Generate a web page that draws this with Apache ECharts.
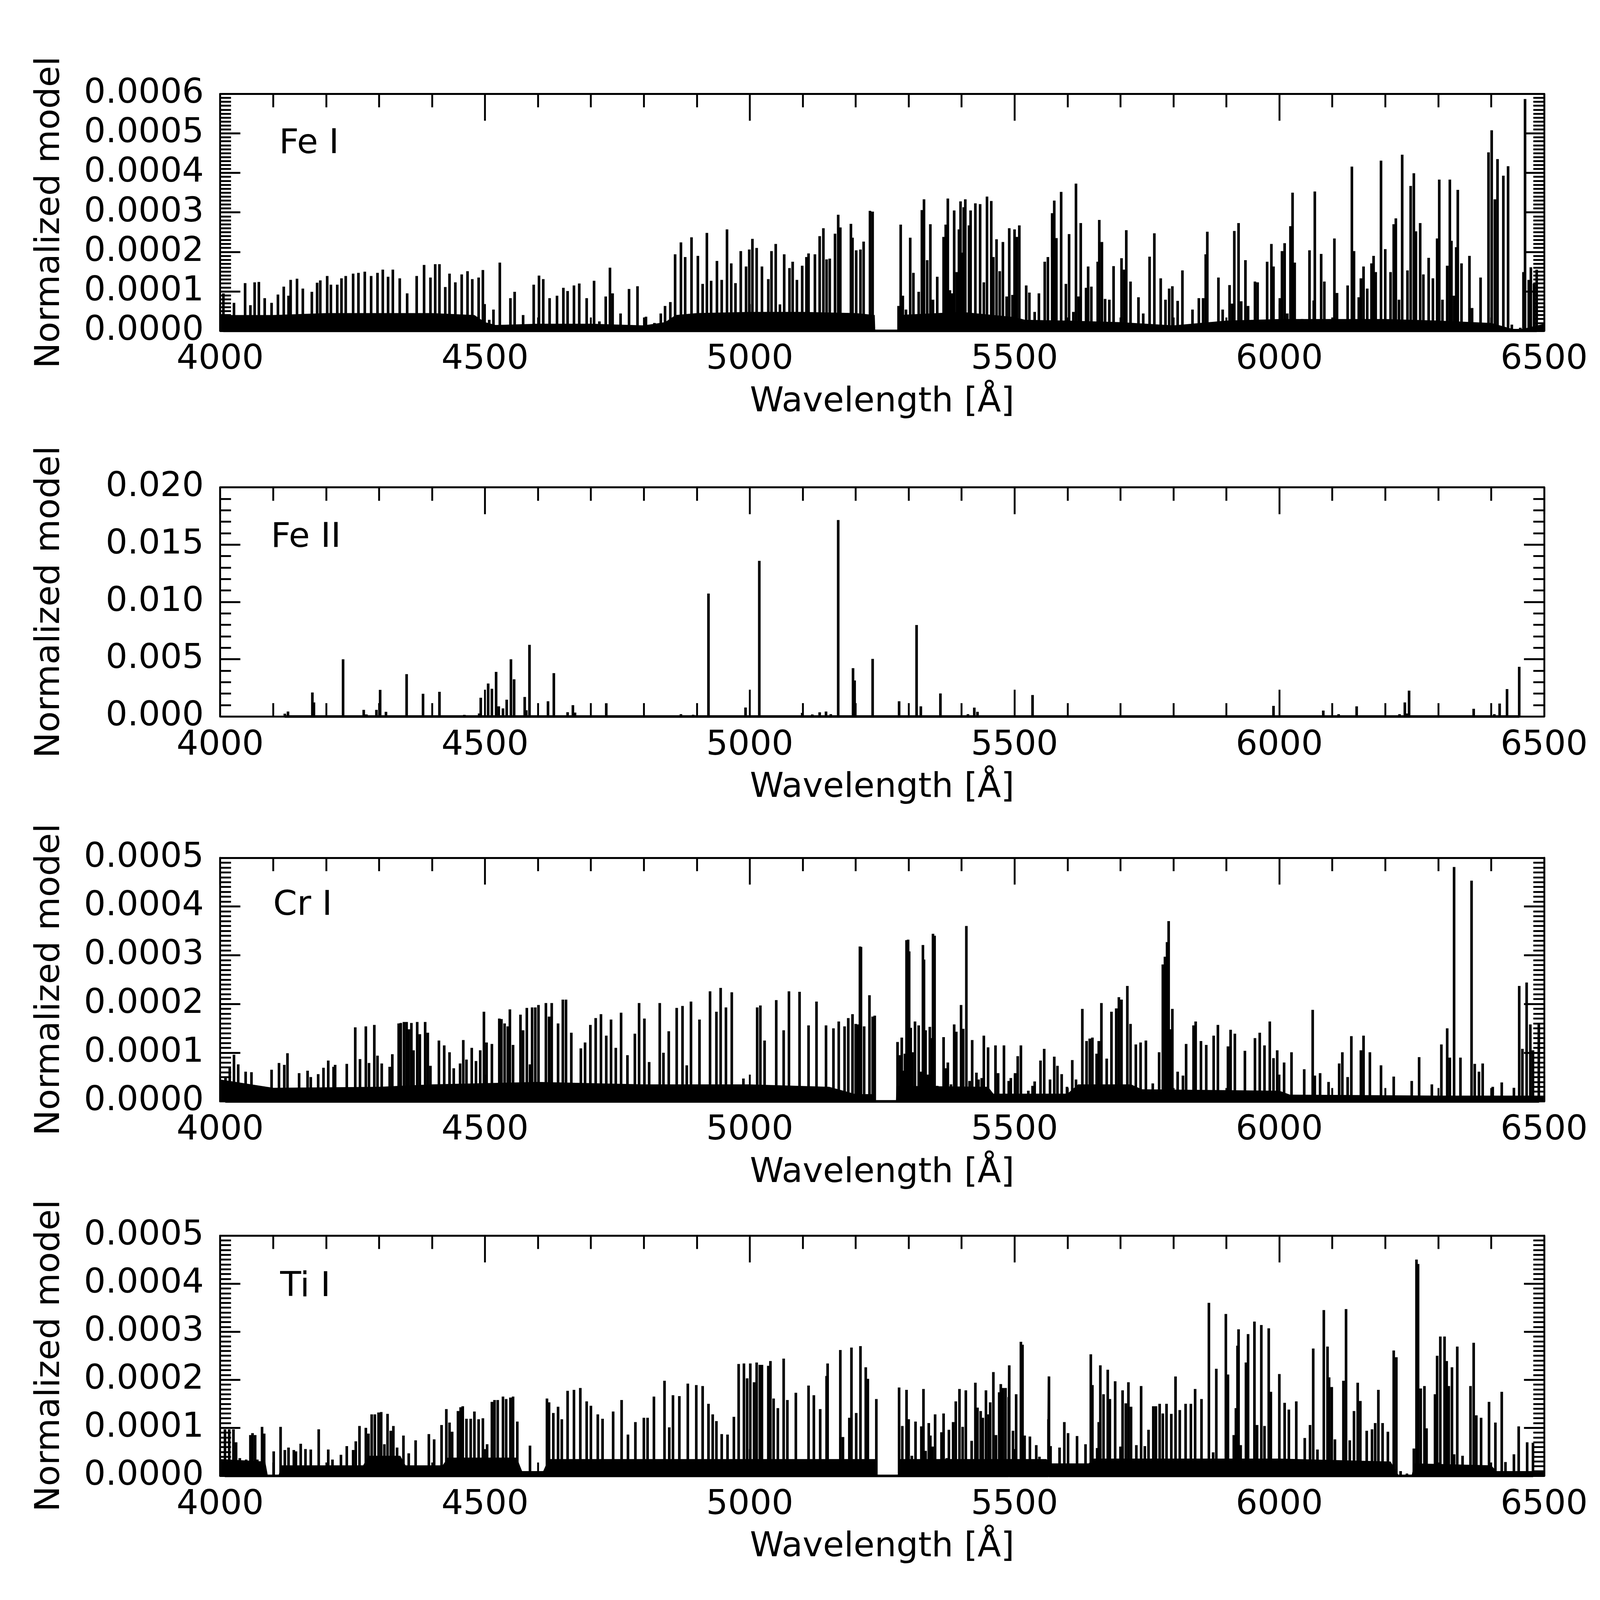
<!DOCTYPE html>
<html style="height: 100%">

<head>
  <meta charset="UTF-8" />
  <title>Normalized line models</title>
  <script src="https://cdn.jsdelivr.net/npm/echarts@6/dist/echarts.min.js"></script>
  <script>
    // line peaks as [wavelength (A), height in units of 1e-4]
    const feI_lines = [
      [4006, 0.95], [4026, 0.71], [4047, 1.21], [4057, 0.65], [4065, 1.23], [4073, 1.24], [4084, 0.83], [4092, 0.32],
      [4097, 0.71], [4109, 0.92], [4120, 1.12], [4129, 0.89], [4133, 1.29], [4145, 1.32], [4156, 1.07], [4173, 0.99],
      [4183, 1.22], [4189, 1.28], [4202, 1.39], [4209, 1.17], [4221, 1.17], [4229, 1.33], [4237, 1.39], [4251, 1.45],
      [4261, 1.47], [4273, 1.50], [4285, 1.39], [4297, 1.47], [4307, 1.55], [4317, 1.37], [4326, 1.55], [4339, 1.33],
      [4353, 0.95], [4371, 1.39], [4385, 1.67], [4397, 1.35], [4406, 1.69], [4414, 1.69], [4425, 1.11], [4433, 1.45],
      [4444, 1.23], [4456, 1.43], [4467, 1.51], [4476, 1.31], [4488, 1.35], [4496, 1.54], [4508, 0.28], [4516, 0.54],
      [4528, 1.73], [4548, 0.83], [4556, 0.99], [4572, 0.40], [4592, 1.17], [4602, 1.40], [4610, 1.31], [4622, 0.83],
      [4636, 0.89], [4648, 1.09], [4656, 1.01], [4668, 1.15], [4678, 1.20], [4692, 0.83], [4706, 1.27], [4716, 0.24],
      [4728, 0.87], [4736, 1.60], [4741, 0.95], [4756, 0.44], [4772, 1.06], [4788, 1.13], [4804, 0.36], [4820, 0.20],
      [4832, 0.44], [4840, 0.63], [4850, 0.73], [4859, 1.94], [4870, 2.24], [4878, 1.87], [4890, 2.37], [4902, 1.90],
      [4911, 1.19], [4919, 2.48], [4927, 1.27], [4938, 1.77], [4947, 1.29], [4957, 2.57], [4965, 1.71], [4973, 1.21],
      [4983, 2.02], [4993, 1.63], [4999, 2.06], [5005, 2.33], [5013, 2.10], [5023, 1.63], [5035, 1.31], [5041, 2.02],
      [5049, 2.20], [5057, 0.67], [5065, 1.94], [5075, 1.59], [5081, 1.75], [5089, 1.29], [5099, 1.65], [5107, 1.87],
      [5111, 1.96], [5123, 1.94], [5132, 2.40], [5139, 2.60], [5145, 1.81], [5151, 1.83], [5161, 2.46], [5167, 2.94],
      [5171, 2.62], [5180, 0.44], [5191, 2.71], [5194, 2.36], [5201, 2.04], [5209, 2.06], [5215, 2.26], [5227, 3.04],
      [5232, 3.02],
      [5281, 0.63], [5285, 2.69], [5289, 0.89], [5295, 0.54], [5303, 2.36], [5309, 1.47], [5319, 0.99], [5325, 3.06],
      [5329, 3.33], [5335, 1.79], [5341, 2.70], [5346, 0.79], [5354, 1.37], [5366, 2.38], [5370, 2.69], [5374, 3.35],
      [5378, 1.03], [5382, 0.95], [5386, 3.05], [5391, 1.49], [5395, 2.57], [5398, 3.28], [5402, 1.98], [5404, 3.13],
      [5407, 3.33], [5414, 2.67], [5417, 3.05], [5426, 3.23], [5435, 3.21], [5442, 1.23], [5448, 3.40], [5456, 3.29],
      [5460, 1.87], [5466, 2.32], [5472, 1.51], [5478, 2.25], [5485, 0.87], [5490, 2.60], [5496, 0.91], [5500, 2.57],
      [5504, 2.38], [5509, 2.67], [5522, 1.15], [5528, 0.97], [5538, 0.48], [5546, 0.95], [5557, 1.75], [5563, 1.87],
      [5571, 2.98], [5575, 3.30], [5579, 2.35], [5588, 3.52], [5597, 1.19], [5603, 2.45], [5611, 0.48], [5616, 3.73],
      [5621, 0.87], [5625, 2.73], [5635, 1.09], [5639, 1.63], [5645, 1.12], [5657, 1.75], [5660, 2.81], [5665, 2.25],
      [5671, 0.81], [5679, 0.79], [5687, 1.64], [5702, 1.84], [5707, 1.55], [5711, 2.55], [5719, 1.25], [5734, 0.85],
      [5743, 0.44], [5755, 1.88], [5764, 2.47], [5776, 1.33], [5785, 0.79], [5792, 1.07], [5798, 1.13], [5808, 0.76],
      [5817, 1.53], [5836, 0.54], [5848, 0.83], [5856, 0.83], [5861, 1.94], [5864, 2.51], [5885, 1.35], [5893, 0.54],
      [5906, 1.16], [5911, 0.69], [5915, 2.53], [5923, 2.73], [5928, 0.75], [5936, 1.79], [5941, 0.63], [5954, 1.25],
      [5959, 1.23], [5977, 1.75], [5985, 2.20], [5989, 1.63], [6001, 0.83], [6005, 2.02], [6010, 2.22], [6015, 0.44],
      [6021, 2.65], [6025, 3.50], [6029, 1.73], [6043, 0.30], [6057, 2.04], [6065, 0.77], [6067, 3.53], [6079, 1.95],
      [6085, 1.25], [6104, 2.34], [6109, 0.96], [6129, 1.15], [6137, 4.16], [6141, 2.02], [6150, 0.85], [6154, 1.33],
      [6159, 1.63], [6166, 1.07], [6174, 1.71], [6178, 1.90], [6182, 1.49], [6192, 4.31], [6200, 2.07], [6210, 1.49],
      [6216, 2.70], [6220, 2.85], [6226, 0.79], [6232, 4.46], [6242, 1.53], [6248, 3.67], [6254, 3.99], [6258, 2.52],
      [6266, 2.73], [6272, 1.43], [6282, 1.85], [6290, 1.33], [6298, 2.34], [6302, 3.83], [6308, 0.79], [6317, 1.65],
      [6322, 3.83], [6325, 2.28], [6330, 0.89], [6334, 2.12], [6337, 3.57], [6344, 1.71], [6359, 1.90], [6364, 0.58],
      [6380, 1.35], [6395, 4.52], [6401, 5.08], [6407, 3.33], [6412, 4.35], [6423, 3.93], [6432, 4.17], [6439, 0.16],
      [6455, 0.08], [6461, 1.49], [6464, 5.87], [6471, 1.29], [6475, 1.61], [6481, 1.20], [6486, 1.55]
    ];
    const feI_base = [
      [4000, 0.4], [4100, 0.4], [4200, 0.45], [4300, 0.45], [4400, 0.45], [4480, 0.4], [4500, 0.22], [4520, 0.15],
      [4600, 0.18], [4700, 0.18], [4800, 0.14], [4840, 0.22], [4860, 0.4], [4900, 0.45], [5000, 0.48], [5100, 0.48],
      [5200, 0.45], [5236, 0.4], [5237, 0], [5279, 0], [5280, 0.4], [5400, 0.48], [5500, 0.35], [5520, 0.28],
      [5600, 0.26], [5700, 0.22], [5800, 0.14], [5900, 0.26], [6000, 0.3], [6100, 0.3], [6200, 0.3], [6300, 0.26],
      [6400, 0.2], [6440, 0.05], [6460, 0.05], [6500, 0.18]
    ];

    const feII_lines = [
      [4122, 2.5], [4128, 4.4], [4174, 21.0], [4177, 12.3], [4232, 50.0], [4256, 1.1], [4271, 5.8], [4276, 1.8],
      [4295, 5.8], [4302, 23.3], [4313, 4.1], [4352, 37.0], [4383, 19.9], [4414, 21.6], [4461, 1.5], [4489, 2.7],
      [4492, 16.4], [4506, 28.8], [4513, 24.2], [4521, 39.0], [4526, 8.9], [4534, 7.1], [4541, 14.7], [4549, 50.0],
      [4555, 32.5], [4575, 17.1], [4578, 5.5], [4584, 62.6], [4619, 13.3], [4630, 37.9], [4656, 3.8], [4666, 9.9],
      [4670, 3.4], [4729, 11.6], [4870, 2.1], [4893, 1.6], [4922, 107.3], [4992, 7.9], [5018, 135.9], [5099, 3.2],
      [5118, 1.8], [5132, 3.7], [5144, 4.4], [5153, 2.1], [5167, 171.5], [5195, 42.2], [5198, 31.5], [5232, 50.3],
      [5282, 13.3], [5315, 79.9], [5323, 8.9], [5360, 20.1], [5412, 2.1], [5424, 7.8], [5430, 4.1], [5534, 18.8],
      [5989, 9.3], [6083, 5.2], [6112, 2.1], [6146, 8.9], [6227, 2.1], [6237, 12.3], [6240, 2.7], [6245, 22.6],
      [6367, 6.8], [6406, 2.1], [6416, 11.4], [6430, 24.0], [6453, 43.4]
    ];

    const crI_lines = [
      [4010, 0.48], [4018, 0.68], [4026, 0.96], [4034, 0.76], [4048, 0.61], [4059, 0.60], [4097, 0.65], [4111, 0.79],
      [4121, 0.75], [4127, 0.99], [4149, 0.58], [4165, 0.63], [4171, 0.50], [4185, 0.56], [4195, 0.69], [4204, 0.84],
      [4214, 0.71], [4217, 0.75], [4239, 0.77], [4255, 1.52], [4264, 0.87], [4275, 1.54], [4281, 0.79], [4291, 1.57],
      [4297, 0.94], [4305, 0.78], [4320, 0.71], [4325, 0.97], [4337, 1.60], [4341, 1.61], [4347, 1.63], [4352, 1.63],
      [4356, 1.48], [4361, 1.61], [4365, 1.05], [4372, 1.63], [4377, 1.38], [4387, 1.63], [4392, 1.41], [4397, 0.73],
      [4413, 1.25], [4423, 1.15], [4433, 1.01], [4441, 0.68], [4453, 0.78], [4459, 1.26], [4465, 0.86], [4475, 1.10],
      [4483, 0.83], [4491, 1.05], [4498, 1.84], [4503, 1.21], [4513, 1.18], [4527, 1.70], [4531, 1.69], [4537, 1.60],
      [4543, 1.54], [4547, 1.89], [4553, 1.16], [4567, 1.78], [4572, 1.46], [4579, 1.92], [4585, 0.76], [4589, 1.93],
      [4595, 1.93], [4601, 1.98], [4615, 2.02], [4621, 1.74], [4626, 2.02], [4638, 1.60], [4647, 2.09], [4653, 2.09],
      [4663, 1.41], [4681, 1.09], [4689, 1.21], [4699, 1.57], [4709, 1.71], [4719, 1.79], [4729, 1.35], [4738, 1.68],
      [4747, 1.10], [4757, 1.82], [4769, 0.95], [4783, 1.39], [4791, 2.02], [4801, 1.70], [4810, 0.81], [4830, 2.02],
      [4837, 1.00], [4847, 1.44], [4862, 1.92], [4873, 1.96], [4881, 0.74], [4889, 2.05], [4905, 1.68], [4925, 2.26],
      [4937, 1.84], [4945, 2.33], [4955, 1.93], [4966, 2.24], [4988, 0.47], [5014, 1.93], [5020, 1.97], [5028, 1.25],
      [5050, 2.08], [5064, 1.46], [5074, 2.26], [5094, 2.25], [5111, 1.56], [5126, 2.05], [5144, 1.56], [5158, 1.50],
      [5168, 1.64], [5179, 1.54], [5186, 1.71], [5194, 1.79], [5200, 1.59], [5204, 1.58], [5208, 3.18], [5210, 3.17],
      [5216, 1.54], [5226, 2.18], [5232, 1.74], [5236, 1.76],
      [5279, 1.22], [5284, 0.95], [5287, 1.31], [5291, 0.63], [5293, 0.98], [5296, 3.31], [5299, 3.32], [5301, 3.08],
      [5304, 1.51], [5307, 1.01], [5312, 1.64], [5319, 1.56], [5323, 0.61], [5327, 3.21], [5329, 2.91], [5332, 1.46],
      [5336, 0.55], [5340, 1.53], [5343, 1.30], [5346, 3.44], [5349, 3.40], [5354, 0.32], [5366, 1.32], [5370, 0.68],
      [5374, 0.80], [5380, 0.35], [5386, 1.58], [5390, 1.43], [5399, 1.98], [5403, 1.49], [5409, 3.60], [5415, 0.42],
      [5420, 1.26], [5428, 0.59], [5432, 0.45], [5438, 0.48], [5442, 1.35], [5450, 1.11], [5464, 1.15], [5469, 0.58],
      [5480, 1.15], [5489, 0.42], [5493, 0.48], [5501, 0.58], [5506, 0.93], [5512, 1.15], [5526, 0.22], [5534, 0.32],
      [5538, 0.41], [5549, 0.84], [5556, 1.08], [5567, 0.45], [5575, 0.92], [5581, 0.73], [5589, 0.56], [5599, 0.30],
      [5609, 0.85], [5616, 0.45], [5628, 1.90], [5636, 1.24], [5642, 1.29], [5647, 1.31], [5655, 0.98], [5659, 1.24],
      [5664, 2.02], [5674, 0.88], [5683, 1.84], [5692, 1.91], [5697, 2.14], [5702, 2.09], [5713, 2.37], [5719, 1.59],
      [5729, 1.17], [5738, 1.21], [5748, 1.25], [5761, 0.37], [5773, 1.01], [5780, 2.81], [5784, 2.97], [5788, 3.27],
      [5791, 3.70], [5794, 1.48], [5798, 1.90], [5808, 0.61], [5818, 0.53], [5824, 1.18], [5838, 1.56], [5842, 1.64],
      [5852, 1.24], [5862, 1.16], [5876, 1.35], [5884, 1.57], [5903, 1.13], [5908, 1.47], [5916, 1.39], [5935, 1.04],
      [5954, 1.30], [5963, 1.41], [5972, 1.15], [5982, 1.64], [5989, 0.89], [5996, 1.05], [6009, 0.80], [6023, 1.01],
      [6047, 0.66], [6063, 1.88], [6067, 0.53], [6077, 0.58], [6093, 0.40], [6113, 0.78], [6119, 1.01], [6129, 0.50],
      [6136, 1.34], [6154, 1.05], [6159, 1.35], [6171, 1.01], [6192, 0.74], [6216, 0.51], [6250, 0.42], [6264, 0.91],
      [6288, 0.35], [6306, 1.17], [6317, 1.50], [6322, 0.90], [6330, 4.81], [6342, 0.90], [6363, 4.53], [6369, 0.77],
      [6377, 0.61], [6384, 0.78], [6403, 0.30], [6420, 0.39], [6443, 0.28], [6453, 2.37], [6459, 1.08], [6467, 2.44],
      [6474, 1.58], [6479, 1.05], [6490, 1.60]
    ];
    const crI_base = [
      [4000, 0.45], [4100, 0.28], [4300, 0.3], [4400, 0.35], [4600, 0.4], [4800, 0.35], [5000, 0.35], [5150, 0.3],
      [5200, 0.15], [5236, 0.15], [5237, 0], [5276, 0], [5277, 0.32], [5450, 0.3], [5460, 0.16], [5600, 0.16],
      [5620, 0.35], [5720, 0.35], [5740, 0.25], [6000, 0.22], [6020, 0.14], [6300, 0.12], [6500, 0.12]
    ];

    const tiI_lines = [
      [4009, 0.97], [4017, 0.97], [4025, 0.97], [4030, 0.70], [4037, 0.37], [4049, 0.34], [4057, 0.85], [4061, 0.89],
      [4066, 0.85], [4070, 0.34], [4079, 1.02], [4083, 0.88], [4101, 0.51], [4114, 1.02], [4122, 0.54], [4129, 0.59],
      [4139, 0.54], [4143, 0.51], [4152, 0.67], [4161, 0.56], [4171, 0.55], [4186, 0.97], [4204, 0.55], [4212, 0.34],
      [4228, 0.44], [4239, 0.62], [4251, 0.54], [4256, 0.72], [4263, 1.04], [4275, 1.00], [4280, 0.88], [4286, 1.28],
      [4292, 1.28], [4299, 1.32], [4304, 1.33], [4310, 0.66], [4316, 1.29], [4322, 0.94], [4327, 1.04], [4334, 0.59],
      [4346, 0.84], [4356, 0.47], [4369, 0.74], [4394, 0.87], [4404, 0.76], [4418, 1.06], [4427, 1.39], [4433, 1.11],
      [4438, 0.92], [4449, 1.35], [4454, 1.43], [4458, 1.45], [4465, 1.19], [4473, 1.19], [4480, 1.34], [4488, 1.18],
      [4496, 1.20], [4504, 0.66], [4513, 1.54], [4518, 1.58], [4524, 1.58], [4534, 1.65], [4540, 1.60], [4548, 1.63],
      [4553, 1.65], [4561, 1.13], [4585, 0.63], [4617, 1.61], [4621, 1.53], [4629, 1.31], [4638, 1.44], [4645, 1.18],
      [4656, 1.77], [4668, 1.79], [4680, 1.83], [4692, 1.55], [4700, 1.46], [4713, 1.28], [4722, 1.19], [4742, 1.34],
      [4758, 1.58], [4770, 0.86], [4784, 1.12], [4800, 1.21], [4807, 1.21], [4819, 1.65], [4839, 1.98], [4848, 1.01],
      [4855, 1.68], [4867, 1.66], [4883, 1.92], [4899, 1.89], [4911, 1.87], [4922, 1.50], [4930, 1.28], [4937, 1.14],
      [4947, 0.87], [4958, 0.86], [4970, 1.23], [4979, 2.33], [4989, 2.34], [4995, 2.03], [5001, 2.34], [5008, 1.95],
      [5013, 2.36], [5019, 2.31], [5023, 2.31], [5035, 2.29], [5039, 2.39], [5045, 1.61], [5053, 1.41], [5064, 2.44],
      [5071, 1.58], [5087, 1.73], [5111, 1.88], [5121, 1.68], [5133, 1.39], [5145, 2.08], [5147, 2.34], [5171, 2.62],
      [5176, 0.81], [5188, 1.21], [5192, 2.67], [5201, 1.31], [5209, 2.70], [5219, 2.26], [5223, 2.02], [5239, 1.60],
      [5282, 1.84], [5288, 1.04], [5296, 1.79], [5300, 1.18], [5306, 0.42], [5313, 1.13], [5317, 0.25], [5324, 1.03],
      [5328, 1.81], [5332, 0.52], [5338, 1.10], [5341, 0.84], [5345, 0.61], [5350, 1.28], [5362, 0.91], [5366, 1.30],
      [5372, 0.37], [5376, 0.96], [5384, 1.12], [5389, 1.55], [5396, 1.81], [5402, 1.02], [5408, 1.78], [5419, 0.73],
      [5426, 1.94], [5430, 1.42], [5436, 1.35], [5440, 1.21], [5446, 1.78], [5451, 1.28], [5454, 1.53], [5460, 2.16],
      [5465, 0.85], [5471, 1.74], [5474, 1.91], [5478, 1.83], [5483, 1.83], [5489, 1.64], [5490, 2.30], [5497, 0.94],
      [5503, 1.70], [5512, 2.79], [5515, 2.73], [5519, 0.84], [5529, 0.82], [5541, 0.64], [5547, 0.40], [5564, 1.18],
      [5565, 2.07], [5568, 0.62], [5585, 0.59], [5594, 1.12], [5601, 0.89], [5618, 0.83], [5634, 0.66], [5644, 2.53],
      [5647, 1.89], [5656, 0.58], [5659, 1.12], [5662, 2.30], [5668, 1.70], [5676, 2.21], [5680, 1.60], [5690, 1.97],
      [5700, 0.61], [5704, 1.78], [5710, 1.51], [5715, 1.95], [5720, 1.44], [5730, 0.64], [5739, 1.87], [5746, 0.62],
      [5753, 0.96], [5762, 1.45], [5767, 1.45], [5774, 1.50], [5780, 1.30], [5787, 1.50], [5796, 1.29], [5804, 2.07],
      [5812, 1.37], [5823, 1.50], [5833, 1.50], [5841, 1.81], [5853, 1.60], [5860, 0.22], [5867, 3.60], [5875, 0.49],
      [5881, 2.23], [5899, 3.37], [5903, 2.11], [5914, 0.85], [5918, 1.41], [5921, 2.71], [5923, 3.05], [5927, 0.64],
      [5937, 2.36], [5941, 2.95], [5953, 3.21], [5958, 1.06], [5966, 3.14], [5972, 1.04], [5980, 3.07], [5984, 1.75],
      [6000, 2.12], [6010, 1.52], [6018, 1.38], [6032, 1.55], [6048, 0.79], [6058, 1.06], [6064, 2.65], [6072, 0.55],
      [6084, 3.45], [6091, 2.69], [6094, 2.05], [6099, 1.85], [6105, 0.76], [6121, 1.98], [6126, 3.47], [6133, 0.74],
      [6141, 1.35], [6148, 1.94], [6153, 1.56], [6165, 0.94], [6175, 0.97], [6181, 1.10], [6187, 1.79], [6195, 1.10],
      [6205, 0.92], [6216, 2.61], [6221, 2.47], [6229, 0.10], [6241, 0.05], [6254, 0.57], [6259, 4.50], [6262, 4.41],
      [6267, 1.82], [6274, 1.87], [6278, 0.99], [6288, 0.07], [6294, 1.70], [6298, 2.50], [6304, 2.90], [6312, 2.90],
      [6316, 2.39], [6320, 1.87], [6326, 2.26], [6330, 0.45], [6336, 2.69], [6346, 0.42], [6361, 1.87], [6367, 2.77],
      [6372, 1.26], [6381, 1.21], [6396, 1.54], [6408, 1.11], [6420, 1.75], [6427, 0.29], [6443, 0.45], [6452, 1.03],
      [6468, 0.70], [6479, 0.69]
    ];
    const tiI_base = [
      [4000, 0.35], [4085, 0.3], [4090, 0], [4110, 0], [4115, 0.22], [4270, 0.22], [4280, 0.42], [4340, 0.42],
      [4350, 0.22], [4420, 0.22], [4430, 0.38], [4560, 0.38], [4570, 0.1], [4610, 0.1], [4620, 0.35], [5000, 0.35],
      [5239, 0.35], [5240, 0], [5280, 0], [5281, 0.35], [5560, 0.35], [5570, 0.26], [5640, 0.26], [5650, 0.36],
      [6000, 0.36], [6210, 0.3], [6225, 0.02], [6250, 0.02], [6255, 0.26], [6400, 0.22], [6410, 0.1], [6500, 0.1]
    ];

    const UNIT = 1e-4;
    const xRange = [4000, 6500];

    // layout in reference pixels (4294 x 4225), scaled to the real viewport below
    const REF_W = 4294;
    const panels = [
      { label: 'Fe I', lines: feI_lines, base: feI_base, ymax: 0.0006, step: 0.0001, minor: 10, digits: 4, top: 252, height: 636, tx: 749, ty: 341 },
      { label: 'Fe II', lines: feII_lines, base: null, ymax: 0.020, step: 0.005, minor: 5, digits: 3, top: 1308, height: 615, tx: 727, ty: 1398 },
      { label: 'Cr I', lines: crI_lines, base: crI_base, ymax: 0.0005, step: 0.0001, minor: 10, digits: 4, top: 2302, height: 654, tx: 733, ty: 2385 },
      { label: 'Ti I', lines: tiI_lines, base: tiI_base, ymax: 0.0005, step: 0.0001, minor: 10, digits: 4, top: 3316, height: 645, tx: 752, ty: 3408 }
    ];

    const FONT = 'DejaVu Sans';
    const black = '#000';

    function spikes(lines) {
      const out = [];
      lines.forEach(e => {
        out.push([e[0], 0], [e[0], e[1] * UNIT], [e[0], 0]);
      });
      return out;
    }

    function renderChart() {
      const dom = document.getElementById('container');
      const s = dom.clientWidth / REF_W;
      const px = v => v * s;
      const FS = px(92);
      const chart = echarts.init(dom, null, { renderer: 'canvas' });

      const xAxisFor = (i, top) => ({
        type: 'value', gridIndex: i, position: top ? 'top' : 'bottom',
        min: xRange[0], max: xRange[1], interval: 500,
        axisLine: { show: true, onZero: false, lineStyle: { color: black, width: px(5) } },
        axisTick: { show: true, inside: true, length: px(72), lineStyle: { color: black, width: px(5) } },
        minorTick: { show: true, splitNumber: 5, length: px(36), lineStyle: { color: black, width: px(5) } },
        splitLine: { show: false },
        axisLabel: {
          show: !top, color: black, fontFamily: FONT, fontSize: FS, margin: px(32),
          showMinLabel: true, showMaxLabel: true, formatter: v => String(v)
        },
        name: top ? '' : 'Wavelength [Å]',
        nameLocation: 'middle', nameGap: px(146),
        nameTextStyle: { color: black, fontFamily: FONT, fontSize: FS }
      });

      const yAxisFor = (i, p, right) => ({
        type: 'value', gridIndex: i, position: right ? 'right' : 'left',
        min: 0, max: p.ymax, interval: p.step,
        axisLine: { show: true, onZero: false, lineStyle: { color: black, width: px(5) } },
        axisTick: { show: true, inside: true, length: px(54), lineStyle: { color: black, width: px(5) } },
        minorTick: { show: true, splitNumber: p.minor, length: px(29), lineStyle: { color: black, width: px(5) } },
        splitLine: { show: false },
        axisLabel: {
          show: !right, color: black, fontFamily: FONT, fontSize: FS, margin: px(44),
          formatter: v => v.toFixed(p.digits)
        },
        name: right ? '' : 'Normalized model',
        nameLocation: 'middle', nameGap: px(410),
        nameTextStyle: { color: black, fontFamily: FONT, fontSize: FS }
      });

      const grid = [], xAxis = [], yAxis = [], series = [], graphic = [];
      panels.forEach((p, i) => {
        grid.push({ left: px(591), width: px(3553), top: px(p.top), height: px(p.height), containLabel: false });
        xAxis.push(xAxisFor(i, false), xAxisFor(i, true));
        yAxis.push(yAxisFor(i, p, false), yAxisFor(i, p, true));
        if (p.base) {
          series.push({
            type: 'line', xAxisIndex: 2 * i, yAxisIndex: 2 * i,
            data: p.base.map(e => [e[0], e[1] * UNIT]),
            showSymbol: false, silent: true,
            lineStyle: { width: 0, color: black },
            areaStyle: { color: black, opacity: 1 }
          });
        }
        series.push({
          type: 'line', xAxisIndex: 2 * i, yAxisIndex: 2 * i,
          data: spikes(p.lines),
          showSymbol: false, silent: true, clip: true,
          lineStyle: { width: px(7), color: black, cap: 'butt', join: 'bevel' }
        });
        graphic.push({
          type: 'text', left: px(p.tx), top: px(p.ty),
          style: { text: p.label, fill: black, font: `${FS}px "${FONT}"` }
        });
      });

      chart.setOption({
        animation: false,
        backgroundColor: '#fff',
        grid, xAxis, yAxis, series, graphic
      });
      window.addEventListener('resize', chart.resize);
    }

    window.addEventListener('load', renderChart);
  </script>
</head>

<body style="height: 100%; margin: 0; background: #fff; overflow: hidden">
  <div id="container" style="width: 100vw; height: 100vh"></div>
</body>

</html>
